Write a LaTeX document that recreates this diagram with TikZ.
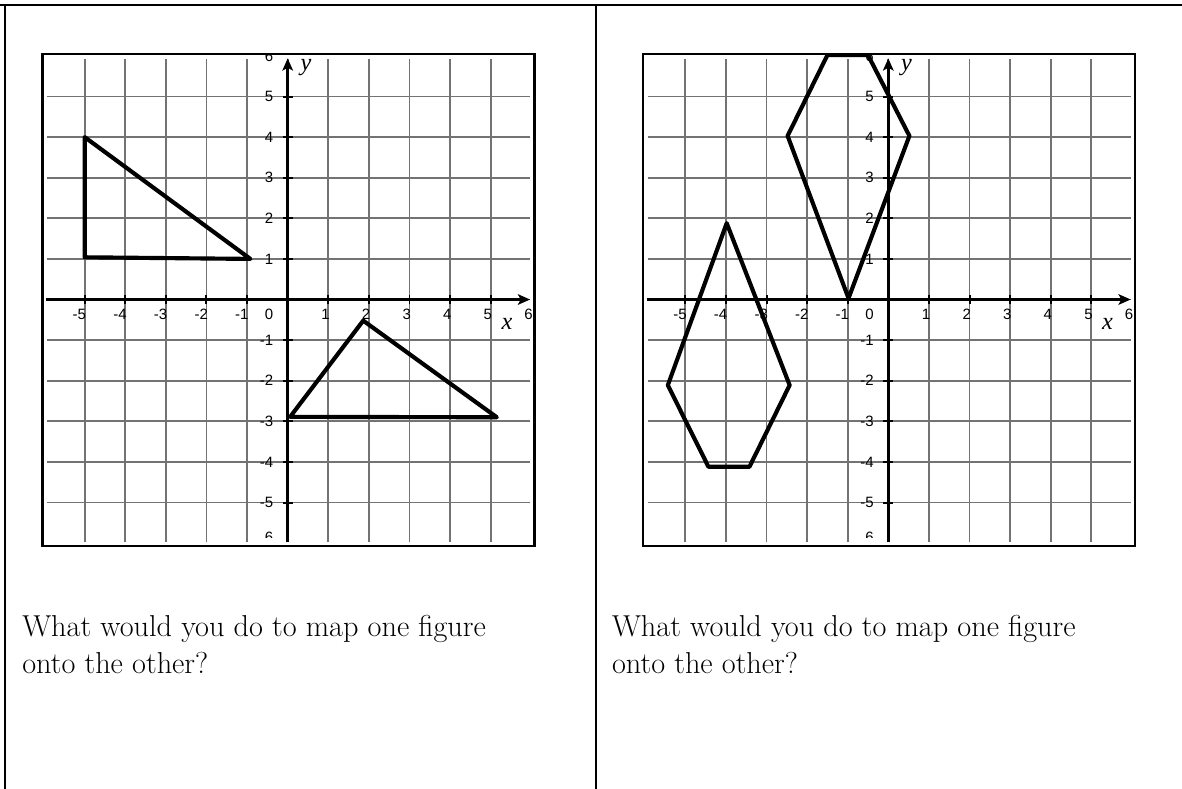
\documentclass[tikz,border=0pt]{standalone}
\usepackage{fontspec}
\newfontfamily\tickfont{Liberation Sans}
\newfontfamily\axisfont{Liberation Serif}
\usetikzlibrary{arrows.meta,positioning}
\tikzset{
  gridline/.style = {black!55, line width = 1.3pt},
  axisline/.style = {line width = 1.8pt, -{Stealth[length = .3cm, width = .26cm, inset = .07cm]}},
  ticklabel/.style = {font = \tickfont\fontsize{10.5}{12}\selectfont, inner sep = 0pt},
  axisname/.style = {font = \axisfont\itshape\fontsize{17}{19}\selectfont, inner sep = 0pt},
  shapeline/.style = {line width = 2.9pt, line join = round},
  question/.style = {font = \fontsize{21.2}{25.5}\selectfont, inner sep = 0pt, anchor = base west}
}
\begin{document}
\begin{tikzpicture}
\useasboundingbox (0,0) rectangle (29.113,-19.433);
% table rules
\draw[line width = 1.6pt] (0,-.123) -- (29.113,-.123);
\draw[line width = 1.6pt] (.123,-.123) -- (.123,-19.433);
\draw[line width = 1.4pt] (14.672,-.123) -- (14.672,-19.433);
% the two coordinate grids
\foreach \ox/\g in {7.086/L, 21.879/R}{
\begin{scope}[shift = {(\ox,-7.377)}]
  \foreach \k in {-5,...,5}{
    \draw[gridline] (\k,-5.98) -- (\k,5.93);
    \draw[gridline] (-5.93,\k) -- (5.97,\k);
  }
  \draw[line width = 1.5pt] (-6.04,-6.07) rectangle (6.08,6.05);
  \draw[axisline] (-5.95,0) -- (5.97,0);
  \draw[axisline] (0,-5.97) -- (0,5.94);
  \foreach \k in {-5,...,5}{
    \draw[line width = 1.4pt] (\k,-.12) -- (\k,.12);
    \draw[line width = 1.4pt] (-.12,\k) -- (.12,\k);
  }
  \foreach \k in {-5,...,-1,1,2,3,4,5,6}
    \node[ticklabel, anchor = north east] (xl\g\k) at (\k+.04,-.22) {\k};
  \node[ticklabel, anchor = north east] (xl\g0) at (-.35,-.22) {0};
  \foreach \k in {-5,...,-1,1,2,3,4,5}
    \node[ticklabel, anchor = east] (yl\g\k) at (-.35,\k) {\k};
  \begin{scope}
    \clip (-6,-5.86) rectangle (6,6);
    \node[ticklabel, anchor = east] (yl\g top) at (-.35,6) {6};
    \node[ticklabel, anchor = north east] (yl\g bot) at (-.35,-5.72) {6};
  \end{scope}
  \node[axisname] (xn\g) at (5.40,-.6) {x};
  \node[axisname] (yn\g) at (.45,5.72) {y};
\end{scope}
}
% left: two triangles
\begin{scope}[shift = {(7.086,-7.377)}]
  \draw[shapeline] (-5,4) -- (-5,1.04) -- (-.92,1) -- cycle;
  \draw[shapeline] (1.86,-.52) -- (.06,-2.89) -- (5.15,-2.9) -- cycle;
\end{scope}
% right: kite and hexagon
\begin{scope}[shift = {(21.879,-7.377)}]
  \draw[shapeline] (-1.5,6.02) -- (-.5,6.02) -- (.52,4.03) -- (-.98,.03) -- (-2.48,4.03) -- cycle;
  \draw[shapeline] (-3.98,1.88) -- (-2.43,-2.11) -- (-3.42,-4.12) -- (-4.43,-4.12) -- (-5.43,-2.11) -- cycle;
\end{scope}
% questions
\node[question] (qla) at (.542,-15.68) {What would you do to map one figure};
\node[question] (qlb) at ([yshift = -.91cm]qla.base west) {onto the other?};
\node[question] (qra) at (15.067,-15.68) {What would you do to map one figure};
\node[question] (qrb) at ([yshift = -.91cm]qra.base west) {onto the other?};
\end{tikzpicture}
\end{document}
